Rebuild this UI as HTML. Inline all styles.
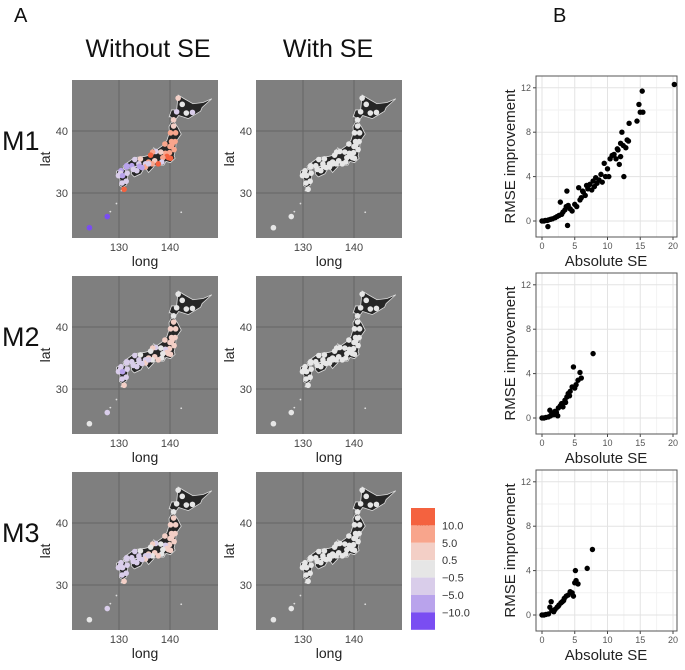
<!DOCTYPE html>
<html><head><meta charset="utf-8"><style>
body{margin:0;background:#fff;font-family:"Liberation Sans",sans-serif;}
svg text{font-family:"Liberation Sans","DejaVu Sans",sans-serif;}
</style></head><body>
<svg id="fig" width="685" height="665" viewBox="0 0 685 665" xmlns="http://www.w3.org/2000/svg">
<text x="14" y="22" font-size="20" fill="#111">A</text>
<text x="553" y="22" font-size="20" fill="#111">B</text>
<text x="148" y="57" font-size="25" text-anchor="middle" fill="#111">Without SE</text>
<text x="328" y="57" font-size="25" text-anchor="middle" fill="#111">With SE</text>
<text x="2" y="150" font-size="27" fill="#111">M1</text>
<text x="2" y="346" font-size="27" fill="#111">M2</text>
<text x="2" y="542" font-size="27" fill="#111">M3</text>
<g id="maps"></g>
<g id="scatters"></g>
<g id="legend"></g>
</svg>
<script>
const NS="http://www.w3.org/2000/svg";
const stationLon=[141.3,143.2,144.4,142.4,140.7,141.6,140.7,140.1,141.1,140.3,141.0,140.4,140.0,140.8,139.7,140.1,139.9,139.1,139.4,138.6,139.0,138.2,137.2,136.6,136.2,137.0,138.4,137.7,136.5,135.5,135.8,135.2,135.2,135.8,134.2,133.1,131.5,132.5,133.9,131.5,134.5,133.5,132.8,134.0,130.4,130.3,129.9,130.7,131.6,131.4,130.6,131.0,127.7,124.2];
const stationLat=[43.1,42.9,43.0,44.3,41.8,45.3,40.8,39.7,39.7,38.3,38.3,37.8,37.5,37.0,35.7,35.6,36.5,36.4,35.9,35.7,37.9,36.6,36.7,36.6,36.1,35.2,35.0,34.7,34.7,34.7,35.0,34.7,34.2,34.7,35.5,35.4,34.4,34.4,34.7,34.2,34.1,33.6,33.8,34.3,33.6,33.2,32.8,32.8,33.2,31.9,31.6,30.6,26.2,24.4];
const meM1=[-2,0.3,-1,0.2,0.6,1,3,6,5,7,6,5,8,7,12,11,9,8,10,6,6,4,-3,7,11,3,-2,12,6,-7,8,-4,6,-3,3,-4,-8,-6,-4,-7,-6,-4,-3,-6,-7,-4,-3,-8,-2,-4,-3,12,-11,-11];
const meM2=[0.2,0,-0.2,0.1,0.3,0,0.6,2,0.6,3,0.7,2,0.6,1,3,2,0.6,-1,2,0.3,0.6,0,-0.7,2,0.2,0.6,0,3,0.3,-3,0.7,-1,0.6,-2,0.3,-1,-2,-0.6,-1,-3,-2,-1,-0.6,-1,-2,-1,-0.7,-6,-0.6,-1,-0.7,3,-0.6,-0.3];
const meM3=[0.2,0,-0.2,0.1,0.3,0,0.6,2,0.6,3,0.7,2,0.6,1,3,2,0.6,-1,2,0.3,0.6,0,-0.7,2,0.2,0.6,0,3,0.3,-3,0.7,-1,0.6,-2,0.3,-1,-2,-0.6,-1,-3,-2,-1,-0.6,-1,-2,-1,-0.7,-2,-0.6,-1,-0.7,4,-0.6,-0.3];
const meWith=[0,0,0,0,0,0,0,0,0,0,0,0,0,0,0,0,0,0,0,0,0,0,0,0,0,0,0,0,0,0,0,0,0,0,0,0,0,0,0,0,0,0,0,0,0,0,0,0,0,0,0,0,0,0];
const legendLabels=["10.0","5.0","0.5","\u22120.5","\u22125.0","\u221210.0"];
const legendColors=["#f4623f","#f8a58c","#f3cfc6","#e6e6e6","#d9cdea","#b9a3ec","#7a4df2"];
function meColor(v){if(v>=10)return legendColors[0];if(v>=5)return legendColors[1];if(v>=0.5)return legendColors[2];if(v>-0.5)return legendColors[3];if(v>-5)return legendColors[4];if(v>-10)return legendColors[5];return legendColors[6];}

const hokkaido=[[141.0,41.7],[139.9,42.4],[139.8,42.2],[140.3,43.4],[141.3,43.4],[141.6,45.8],[142.8,45.2],[144.5,44.4],[146.5,44.6],[148.2,45.2],[146.3,43.8],[146.0,43.2],[143.6,42.0],[141.7,42.5]];
const honshu=[[140.8,41.5],[141.6,40.5],[142.2,39.5],[141.2,38.3],[141.1,37.0],[140.8,36.0],[141.0,35.6],[140.1,34.9],[139.2,35.1],[138.8,34.5],[138.2,34.5],[137.0,34.5],[136.8,34.2],[135.8,33.3],[135.1,34.1],[134.0,34.5],[132.5,34.1],[131.0,33.8],[130.8,34.3],[131.5,34.8],[133.0,35.7],[135.0,35.9],[136.0,36.1],[136.8,37.3],[137.3,36.9],[138.5,37.6],[139.4,38.5],[139.9,39.8],[139.8,40.7],[140.2,41.3]];
const shikoku=[[132.4,33.1],[133.0,32.6],[134.3,33.1],[134.8,33.8],[134.0,34.4],[132.7,34.0]];
const kyushu=[[130.9,33.9],[131.8,33.3],[131.5,31.3],[130.7,30.9],[130.1,31.2],[130.2,32.2],[129.6,32.8],[129.5,33.5],[130.4,33.8]];

function el(tag,attrs,parent){const e=document.createElementNS(NS,tag);for(const k in attrs)e.setAttribute(k,attrs[k]);parent.appendChild(e);return e;}

const maps=document.getElementById('maps');
const mapCols=[72,256], mapRows=[80,276,472], PW=146, PH=158;
const mapData=[[meM1,meWith],[meM2,meWith],[meM3,meWith]];
mapRows.forEach((top,ri)=>{mapCols.forEach((left,ci)=>{
 const g=el('g',{},maps);
 
 
 const sx=lon=>left+47+(lon-130)*5.1, sy=lat=>top+51-(lat-40)*6.2;
 el('rect',{x:left,y:top,width:PW,height:PH,fill:'#7f7f7f'},g);
 [130,140].forEach(v=>{el('line',{x1:sx(v),x2:sx(v),y1:top,y2:top+PH,stroke:'#666','stroke-width':1},g);
   const t=el('text',{x:sx(v),y:top+PH+13,'font-size':11,'text-anchor':'middle',fill:'#444'},g);t.textContent=v;});
 [30,40].forEach(v=>{el('line',{x1:left,x2:left+PW,y1:sy(v),y2:sy(v),stroke:'#666','stroke-width':1},g);
   const t=el('text',{x:left-4,y:sy(v)+4,'font-size':11,'text-anchor':'end',fill:'#444'},g);t.textContent=v;});
 const xl=el('text',{x:left+PW/2,y:top+PH+28,'font-size':14,'text-anchor':'middle',fill:'#222'},g);xl.textContent='long';
 
 const yl=el('text',{x:0,y:0,'font-size':14,'text-anchor':'middle',fill:'#222',transform:`translate(${left-22},${top+PH/2}) rotate(-90)`},g);yl.textContent='lat';
 
 [hokkaido,honshu,shikoku,kyushu].forEach(poly=>{
   el('polygon',{points:poly.map(p=>sx(p[0])+','+sy(p[1])).join(' '),fill:'#262626',stroke:'#ddd','stroke-width':0.8},g);});
 [[127.8,26.4],[128.3,27.0],[124.2,24.4],[142.2,26.9],[129.5,28.3],[130.5,30.4]].forEach(p=>el('circle',{cx:sx(p[0]),cy:sy(p[1]),r:0.9,fill:'#ddd'},g));
 const vals=mapData[ri][ci];
 stationLon.forEach((lon,i)=>{
   const c=el('circle',{cx:sx(lon),cy:sy(stationLat[i]),r:2.8,fill:meColor(vals[i])},g);
   
   
 });
});});

const lg=document.getElementById('legend');
const lt=el('text',{x:416,y:528,'font-size':13,fill:'#222'},lg);lt.textContent='ME';
legendColors.forEach((c,i)=>{const r=el('rect',{x:411,y:508+i*17.4,width:24,height:17.4,fill:c},lg);
 
 });
legendLabels.forEach((s,i)=>{const t=el('text',{x:442,y:508+(i+1)*17.4+4,'font-size':11,fill:'#333'},lg);t.textContent=s;
 });

const s1x=[0,0.3,0.5,0.8,1,1.3,1.6,2,2.3,2.6,2.8,3,3.2,3.5,3.7,3.8,3.9,0.9,4,4.3,4.6,5,5.3,5.6,5.8,6,6.3,6.6,6.8,7,7.3,7.6,7.8,8,8.2,8.4,8.7,9,9.2,9.5,9.7,10,10.2,10.4,10.7,11,11.3,11.6,11.8,12,12.2,12.4,12.5,12.8,13.2,13.3,14.5,14.8,15,15.3,15.4,20.2,12,11.5,13,6.2];
const s1y=[0,0,0.05,0.05,0.1,0.15,0.2,0.3,0.4,0.5,1.7,0.6,0.8,1.0,1.3,2.7,-0.4,-0.5,1.4,1.1,0.9,1.5,1.3,3.0,1.9,2.1,2.6,2.3,3.2,2.9,3.3,2.8,3.6,3.1,3.9,3.4,3.7,4.2,3.5,5.2,4.0,4.7,4.0,5.6,5.9,6.0,5.6,6.4,5.1,5.8,8.0,6.8,4.0,6.6,7.2,8.8,9.0,10.5,9.8,11.7,9.8,12.3,7.0,6.5,7.3,2.7];
const s2x=[0,0.3,0.6,1,1.3,1.5,1.8,2,2.2,2.5,2.8,3,3.2,3.5,3.8,4,4.3,4.6,4.8,5,5.2,5.5,5.8,6,7.8,1.2,2.4,3.6,4.2];
const s2y=[0,0,0.05,0.1,0.2,0.4,0.3,0.6,0.5,0.9,1.1,1.3,1.0,1.6,1.9,2.2,2.4,2.8,4.6,2.7,3.0,3.4,4.1,3.6,5.8,0.7,0.2,1.4,2.0];
const s3x=[0,0.3,0.6,1,1.2,1.4,1.8,2,2.3,2.6,2.9,3.1,3.4,3.7,4,4.3,4.6,4.8,5,5.1,5.2,5.5,6.9,7.7,1.5,2.5,3.3];
const s3y=[0,0,0.05,0.1,0.7,1.2,0.3,0.5,0.7,0.9,1.1,1.2,1.5,1.7,1.8,2.1,2.0,1.7,2.9,4.0,3.1,2.8,4.2,5.9,0.4,0.8,1.3];
const xTicks=[0,5,10,15,20], yTicks=[0,4,8,12];
const sc=document.getElementById('scatters');
[[s1x,s1y],[s2x,s2y],[s3x,s3y]].forEach((d,pi)=>{
 const top=76+pi*197, left=536, W=141, H=161;
 const g=el('g',{},sc);
 
 
 const X=v=>542+v*6.55, Y=v=>top+145-v*11.1;
 el('rect',{x:left,y:top,width:W,height:H,fill:'#fff'},g);
 [2.5,7.5,12.5,17.5].forEach(v=>el('line',{x1:X(v),x2:X(v),y1:top,y2:top+H,stroke:'#f2f2f2'},g));
 [2,6,10].forEach(v=>el('line',{x1:left,x2:left+W,y1:Y(v),y2:Y(v),stroke:'#f2f2f2'},g));
 xTicks.forEach(v=>{el('line',{x1:X(v),x2:X(v),y1:top,y2:top+H,stroke:'#e3e3e3'},g);
  el('line',{x1:X(v),x2:X(v),y1:top+H,y2:top+H+3,stroke:'#444'},g);
  const t=el('text',{x:X(v),y:top+H+12,'font-size':9,'text-anchor':'middle',fill:'#555'},g);t.textContent=v;});
 yTicks.forEach(v=>{el('line',{x1:left,x2:left+W,y1:Y(v),y2:Y(v),stroke:'#e3e3e3'},g);
  el('line',{x1:left-3,x2:left,y1:Y(v),y2:Y(v),stroke:'#444'},g);
  const t=el('text',{x:left-5,y:Y(v)+3,'font-size':9,'text-anchor':'end',fill:'#555'},g);t.textContent=v;});
 el('rect',{x:left,y:top,width:W,height:H,fill:'none',stroke:'#555','stroke-width':1},g);
 d[0].forEach((xv,i)=>{const c=el('circle',{cx:X(xv),cy:Y(d[1][i]),r:2.7,fill:'#000'},g);
  
  });
 const xt=el('text',{x:606,y:top+H+29,'font-size':15,'text-anchor':'middle',fill:'#222'},g);xt.textContent='Absolute SE';
 
 const yt=el('text',{x:0,y:0,'font-size':15,'text-anchor':'middle',fill:'#222',transform:`translate(${left-21},${top+H/2}) rotate(-90)`},g);yt.textContent='RMSE improvement';
 
});
</script>
</body></html>
